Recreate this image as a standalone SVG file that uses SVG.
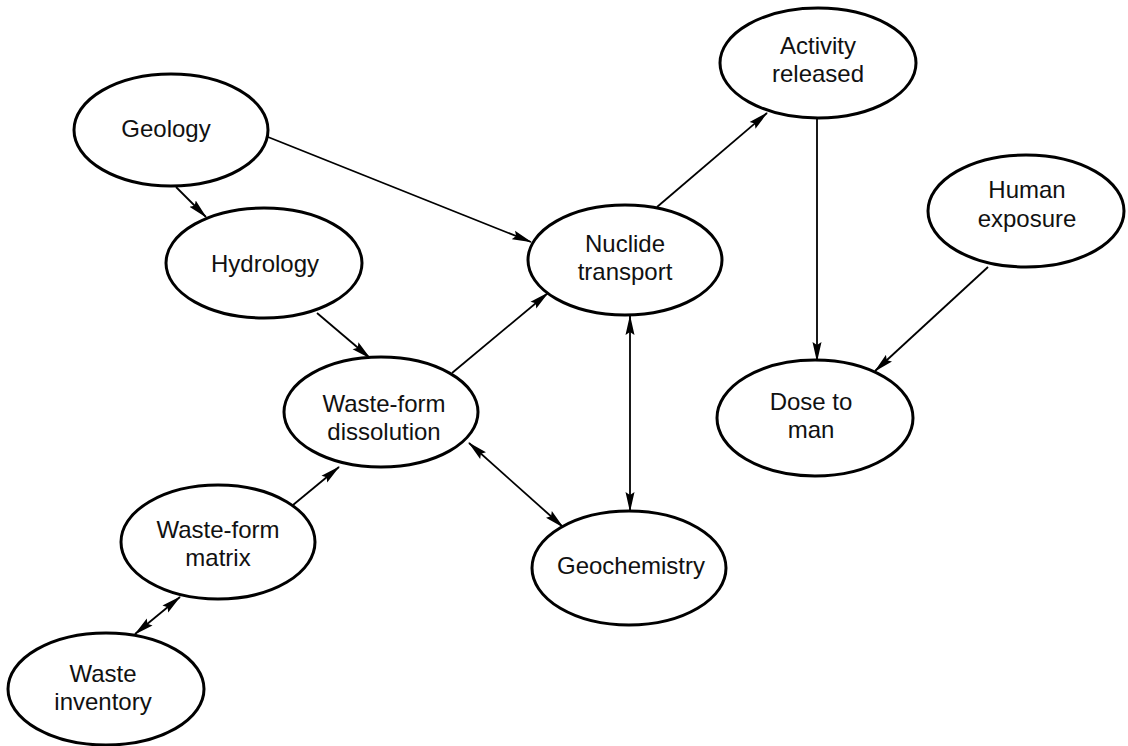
<svg xmlns="http://www.w3.org/2000/svg" width="1128" height="746" viewBox="0 0 1128 746">
<style>
.n ellipse{fill:#fff;stroke:#000;stroke-width:3}
.n text{font-family:"Liberation Sans",Arial,sans-serif;font-size:24px;fill:#111;text-anchor:middle}
#edges line{stroke:#000;stroke-width:1.8;fill:none}
.a{marker-end:url(#ah)}
.d{marker-start:url(#ah);marker-end:url(#ah)}
</style>
<defs>
<marker id="ah" markerUnits="userSpaceOnUse" markerWidth="20" markerHeight="10" refX="19" refY="5" orient="auto-start-reverse" viewBox="0 0 20 10">
<path d="M0,0.5 L20,5 L0,9.5 L3,5 z" fill="#000"/>
</marker>
</defs>
<rect width="1128" height="746" fill="#fff"/>
<g id="edges">
<line class="a" x1="176" y1="187" x2="206" y2="217"/>
<line class="a" x1="268" y1="137" x2="531" y2="242"/>
<line class="a" x1="317" y1="313" x2="370" y2="358"/>
<line class="a" x1="452" y1="373" x2="548" y2="293"/>
<line class="d" x1="630" y1="316" x2="630" y2="511"/>
<line class="d" x1="469" y1="443" x2="563" y2="527"/>
<line class="a" x1="293" y1="505" x2="339" y2="467"/>
<line class="d" x1="135" y1="634" x2="180" y2="597"/>
<line class="a" x1="657" y1="207" x2="767" y2="113"/>
<line class="a" x1="817" y1="119" x2="817" y2="361"/>
<line class="a" x1="988" y1="267" x2="875" y2="371"/>
</g>
<g id="geology" class="n"><ellipse cx="171" cy="130" rx="97" ry="56"/><text x="166" y="137">Geology</text></g>
<g id="hydrology" class="n"><ellipse cx="264" cy="263" rx="98" ry="55"/><text x="265" y="272">Hydrology</text></g>
<g id="nuclide-transport" class="n"><ellipse cx="625" cy="260" rx="97" ry="55"/><text x="625" y="252">Nuclide</text><text x="625" y="280">transport</text></g>
<g id="waste-form-dissolution" class="n"><ellipse cx="381" cy="412" rx="97" ry="55"/><text x="384" y="412">Waste-form</text><text x="384" y="440">dissolution</text></g>
<g id="waste-form-matrix" class="n"><ellipse cx="218" cy="542" rx="97" ry="57"/><text x="218" y="538">Waste-form</text><text x="218" y="566">matrix</text></g>
<g id="waste-inventory" class="n"><ellipse cx="106" cy="689" rx="98" ry="56"/><text x="103" y="682">Waste</text><text x="103" y="710">inventory</text></g>
<g id="geochemistry" class="n"><ellipse cx="629" cy="568" rx="97" ry="57"/><text x="631" y="574">Geochemistry</text></g>
<g id="activity-released" class="n"><ellipse cx="818" cy="63" rx="98" ry="55"/><text x="818" y="54">Activity</text><text x="818" y="82">released</text></g>
<g id="human-exposure" class="n"><ellipse cx="1026" cy="211" rx="98" ry="56"/><text x="1027" y="198">Human</text><text x="1027" y="227">exposure</text></g>
<g id="dose-to-man" class="n"><ellipse cx="815" cy="418" rx="98" ry="58"/><text x="811" y="410">Dose to</text><text x="811" y="438">man</text></g>
</svg>
